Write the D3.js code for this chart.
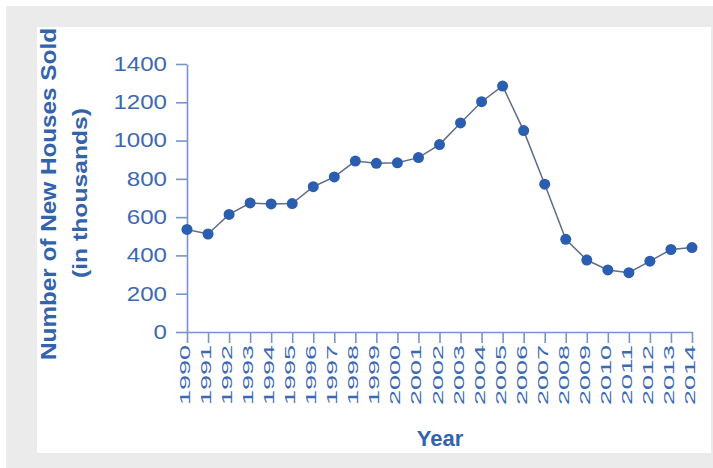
<!DOCTYPE html>
<html>
<head>
<meta charset="utf-8">
<script src="https://cdn.jsdelivr.net/npm/d3@7"></script>
<style>
  body { margin: 0; background: #fff; }
  svg { display: block; font-family: "Liberation Sans", Arial, sans-serif; }
</style>
</head>
<body>
<div id="chart"></div>
<script>
// data (thousands of new houses sold)
var years = ["1990", "1991", "1992", "1993", "1994", "1995", "1996", "1997", "1998", "1999",
    "2000", "2001", "2002", "2003", "2004", "2005", "2006", "2007", "2008", "2009",
    "2010", "2011", "2012", "2013", "2014"];
var housesSold = [536, 512, 614, 674, 669, 671, 759, 810, 893, 881,
    884, 911, 979, 1092, 1203, 1285, 1052, 772, 484, 376,
    324, 310, 370, 431, 441];
var yTicks = [0, 200, 400, 600, 800, 1000, 1200, 1400];

var W = 713, H = 468;
var textBlue = "#3c69b2", titleBlue = "#3463ad", axisBlue = "#7795c8",
    dotBlue = "#2b5db0", lineGray = "#5e6e89";

var svg = d3.select("#chart")
    .append("svg")
    .attr("width", W)
    .attr("height", H);

// gray frame and white panel
svg.append("rect").attr("x", 6).attr("y", 6).attr("width", W - 6).attr("height", H - 6)
    .attr("fill", "#ebebeb");
svg.append("rect").attr("x", 37).attr("y", 27).attr("width", 674).attr("height", 426)
    .attr("fill", "#fff");

var x = d3.scalePoint()
    .domain(years)
    .range([187, 692]);

var y = d3.scaleLinear()
    .domain([0, 1400])
    .range([332, 64]);

// Y axis
var yAxis = svg.append("g")
    .attr("transform", "translate(187,0)")
    .call(d3.axisLeft(y).tickValues(yTicks).tickFormat(d3.format("d"))
        .tickSize(11).tickSizeOuter(0).tickPadding(9));
yAxis.selectAll("text")
    .attr("font-size", 20)
    .attr("fill", textBlue)
    .attr("textLength", function (d) { return String(d).length * 13.4; })
    .attr("lengthAdjust", "spacingAndGlyphs");

// X axis
var xAxis = svg.append("g")
    .attr("transform", "translate(0,332)")
    .call(d3.axisBottom(x).tickSize(11).tickSizeOuter(0));
xAxis.selectAll("text")
    .attr("font-size", 15)
    .attr("fill", textBlue)
    .attr("text-anchor", "end")
    .attr("y", 0)
    .attr("dy", 0)
    .attr("transform", "translate(2.5,13) rotate(-90)")
    .attr("textLength", 60)
    .attr("lengthAdjust", "spacingAndGlyphs");

svg.selectAll(".domain, .tick line")
    .attr("stroke", axisBlue)
    .attr("stroke-width", 1.6);

// line + dots
var line = d3.line()
    .x(function (d, i) { return x(years[i]); })
    .y(function (d) { return y(d); });

svg.append("path")
    .datum(housesSold)
    .attr("d", line)
    .attr("fill", "none")
    .attr("stroke", lineGray)
    .attr("stroke-width", 1.5);

svg.selectAll("circle.pt")
    .data(housesSold)
    .enter()
    .append("circle")
    .attr("class", "pt")
    .attr("cx", function (d, i) { return x(years[i]); })
    .attr("cy", function (d) { return y(d); })
    .attr("r", 5.5)
    .attr("fill", dotBlue);

// axis titles
svg.append("text")
    .attr("transform", "translate(56,194) rotate(-90)")
    .attr("text-anchor", "middle")
    .attr("font-size", 22)
    .attr("font-weight", "bold")
    .attr("fill", titleBlue)
    .attr("textLength", 332)
    .attr("lengthAdjust", "spacingAndGlyphs")
    .text("Number of New Houses Sold");

svg.append("text")
    .attr("transform", "translate(87,193) rotate(-90)")
    .attr("text-anchor", "middle")
    .attr("font-size", 21)
    .attr("font-weight", "bold")
    .attr("fill", titleBlue)
    .attr("textLength", 170)
    .attr("lengthAdjust", "spacingAndGlyphs")
    .text("(in thousands)");

svg.append("text")
    .attr("x", 440)
    .attr("y", 446)
    .attr("text-anchor", "middle")
    .attr("font-size", 22)
    .attr("font-weight", "bold")
    .attr("fill", titleBlue)
    .text("Year");
</script>
</body>
</html>
